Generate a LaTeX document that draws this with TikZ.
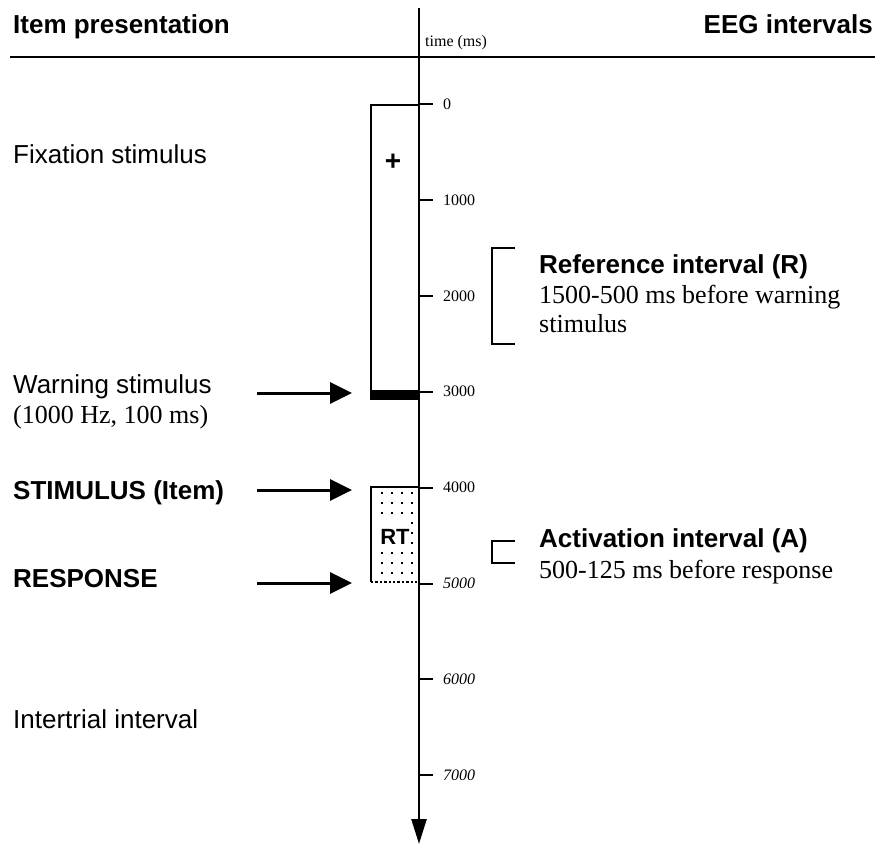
\documentclass[tikz,border=0pt]{standalone}
\usepackage{fontspec}
\setmainfont{Liberation Serif}
\setsansfont{Liberation Sans}
\usetikzlibrary{arrows.meta}
\begin{document}
\begin{tikzpicture}[x=1pt,y=-1pt,
  lbl/.style={font=\sffamily\fontsize{26}{30}\selectfont, anchor=base west, inner sep=0pt},
  lblb/.style={font=\sffamily\bfseries\fontsize{26}{30}\selectfont, anchor=base west, inner sep=0pt},
  ser/.style={font=\rmfamily\fontsize{26}{30}\selectfont, anchor=base west, inner sep=0pt},
  ticklbl/.style={font=\rmfamily\fontsize{16}{18}\selectfont, anchor=west, inner sep=0pt},
  ticklbli/.style={font=\rmfamily\itshape\fontsize{16}{18}\selectfont, anchor=west, inner sep=0pt},
  ptr/.style={line width=3pt, -{Triangle[length=22pt,width=21pt]}},
  brk/.style={line width=1.6pt},
  boxline/.style={line width=2pt}]
\useasboundingbox (0,0) rectangle (875,845);

% header
\node[lblb] (hleft) at (13,34) {Item presentation};
\node[lblb, anchor=base east] (hright) at (873,34) {EEG intervals};
\coordinate (hl) at (10,57);
\coordinate (hr) at (875,57);
\draw[line width=2pt] (hl) -- (hr);
\node[ticklbl, anchor=base west] (tms) at (425,47) {time (ms)};

% time axis
\coordinate (axtop) at (419,8);
\coordinate (axbot) at (419,844);
\draw[line width=2.5pt, -{Triangle[length=25pt,width=15pt]}] (axtop) -- (axbot);

% ticks
\foreach \t in {0,1000,2000,3000,4000} {
  \coordinate (tk\t) at (419,{104+\t*0.0959});
  \coordinate (te\t) at (433,{104+\t*0.0959});
  \draw[line width=2pt] (tk\t) -- (te\t);
  \node[ticklbl] (tl\t) at (443,{104+\t*0.0959}) {\t};
}
\foreach \t in {5000,6000,7000} {
  \coordinate (tk\t) at (419,{104+\t*0.0959});
  \coordinate (te\t) at (433,{104+\t*0.0959});
  \draw[line width=2pt] (tk\t) -- (te\t);
  \node[ticklbli] (tl\t) at (443,{104+\t*0.0959}) {\t};
}

% fixation box
\draw[boxline] (419,105) -- (371,105) -- (371,392);
\fill (370,390) rectangle (419,400);
\node[font=\sffamily\bfseries\fontsize{28}{30}\selectfont, inner sep=0pt] (plus) at (393,162) {+};

% RT box (dotted fill, RT label area left clear)
\foreach \yy in {493,503,...,578} {
  \foreach \xx in {382,392,402,412} {
    \pgfmathtruncatemacro{\hide}{(\yy>520)&&(\yy<552)&&(\xx<410)}
    \ifnum\hide=0
      \fill (\xx-1.2,\yy-1.2) rectangle (\xx+1.2,\yy+1.2);
    \fi
  }
}
\draw[boxline] (419,487) -- (371,487) -- (371,582);
\draw[line width=2.4pt, dotted] (371,582) -- (419,582);
\node[font=\sffamily\bfseries\fontsize{22}{26}\selectfont, inner sep=0pt] (rt) at (395,537) {RT};

% left labels
\node[lbl] (fix) at (13,164) {Fixation stimulus};
\node[lbl] (warn) at (13,393) {Warning stimulus};
\node[ser] (warn2) at (13,423) {(1000 Hz, 100 ms)};
\node[lblb] (stim) at (13,499) {STIMULUS (Item)};
\node[lblb] (resp) at (13,587) {RESPONSE};
\node[lbl] (iti) at (13,728) {Intertrial interval};

% pointer arrows
\coordinate (a1s) at (257,393); \coordinate (a1e) at (352,393);
\coordinate (a2s) at (257,490); \coordinate (a2e) at (352,490);
\coordinate (a3s) at (257,583); \coordinate (a3e) at (352,583);
\draw[ptr] (a1s) -- (a1e);
\draw[ptr] (a2s) -- (a2e);
\draw[ptr] (a3s) -- (a3e);

% reference interval
\draw[brk] (515,248) -- (492,248) -- (492,344) -- (515,344);
\node[lblb] (ref) at (539,273) {Reference interval (R)};
\node[ser] (ref2) at (539,303) {1500-500 ms before warning};
\node[ser] (ref3) at (539,332) {stimulus};

% activation interval
\draw[brk] (515,541) -- (492,541) -- (492,563) -- (515,563);
\node[lblb] (act) at (539,547) {Activation interval (A)};
\node[ser] (act2) at (539,578) {500-125 ms before response};
\end{tikzpicture}
\end{document}
